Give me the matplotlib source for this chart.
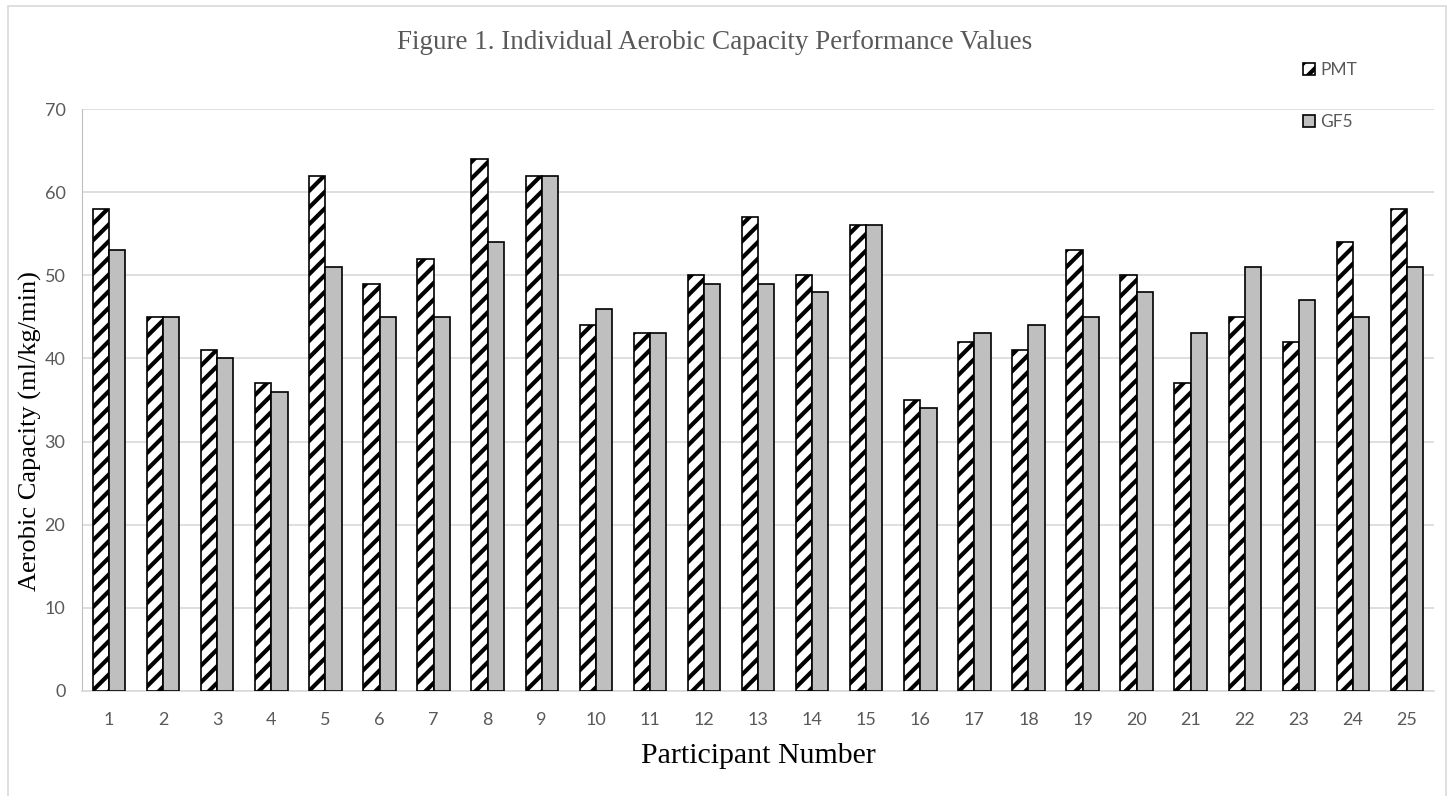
import numpy as np
import matplotlib.pyplot as plt
from matplotlib.patches import Rectangle

# Data
participants = [str(i) for i in range(1, 26)]
pmt = [58, 45, 41, 37, 62, 49, 52, 64, 62, 44, 43, 50, 57, 50, 56, 35, 42, 41, 53, 50, 37, 45, 42, 54, 58]
gf5 = [53, 45, 40, 36, 51, 45, 45, 54, 62, 46, 43, 49, 49, 48, 56, 34, 43, 44, 45, 48, 43, 51, 47, 45, 51]

plt.rcParams['hatch.linewidth'] = 3.0
sans = ['Lato', 'DejaVu Sans']
serif = ['Liberation Serif', 'DejaVu Serif']
tick_col = '#595959'

fig = plt.figure(figsize=(14.5, 7.96), dpi=100)
ax = fig.add_axes([0.0566, 0.132, 0.9324, 0.731])

# chart border
fig.patches.append(Rectangle((0.0055, -0.01), 0.992, 1.003, transform=fig.transFigure,
                             fill=False, edgecolor='#d9d9d9', linewidth=1.2))

x = np.arange(len(participants))
w = 0.3
ax.bar(x - w / 2, pmt, w, color='white', edgecolor='black', hatch='//', linewidth=1.2, label='PMT', zorder=3)
ax.bar(x + w / 2, gf5, w, color='#bfbfbf', edgecolor='black', linewidth=1.2, label='GF5', zorder=3)

ax.set_xlim(-0.5, len(participants) - 0.5)
ax.set_ylim(0, 70)
ax.set_yticks(range(0, 71, 10))
ax.set_xticks(x)
ax.set_xticklabels(participants)
ax.yaxis.grid(True, color='#d9d9d9', linewidth=1.2, zorder=0)
ax.set_axisbelow(True)
for s in ['top', 'right']:
    ax.spines[s].set_visible(False)
ax.spines['left'].set_color('#bfbfbf')
ax.spines['bottom'].set_color('#d9d9d9')
ax.spines['bottom'].set_linewidth(1.2)
ax.tick_params(length=0, labelsize=13, colors=tick_col)
ax.tick_params(axis='x', pad=15)
ax.tick_params(axis='y', pad=12)
for lbl in ax.get_xticklabels() + ax.get_yticklabels():
    lbl.set_family(sans)

ax.set_xlabel('Participant Number', fontsize=21.5, family=serif)
ax.set_ylabel('Aerobic Capacity (ml/kg/min)', fontsize=19, family=serif)
ax.xaxis.set_label_coords(0.5, -0.09)
ax.yaxis.set_label_coords(-0.03, 0.447)
fig.text(0.493, 0.947, 'Figure 1. Individual Aerobic Capacity Performance Values', ha='center', va='center',
         fontsize=19.5, family=serif, color=tick_col)

leg = fig.legend(loc='upper left', bbox_to_anchor=(0.888, 0.942), frameon=False, labelspacing=2.1,
                 handlelength=0.7, handleheight=0.7, handletextpad=0.3,
                 prop={'family': sans, 'size': 12.5})
for t in leg.get_texts():
    t.set_color(tick_col)

fig.savefig('out.png', dpi=100)
